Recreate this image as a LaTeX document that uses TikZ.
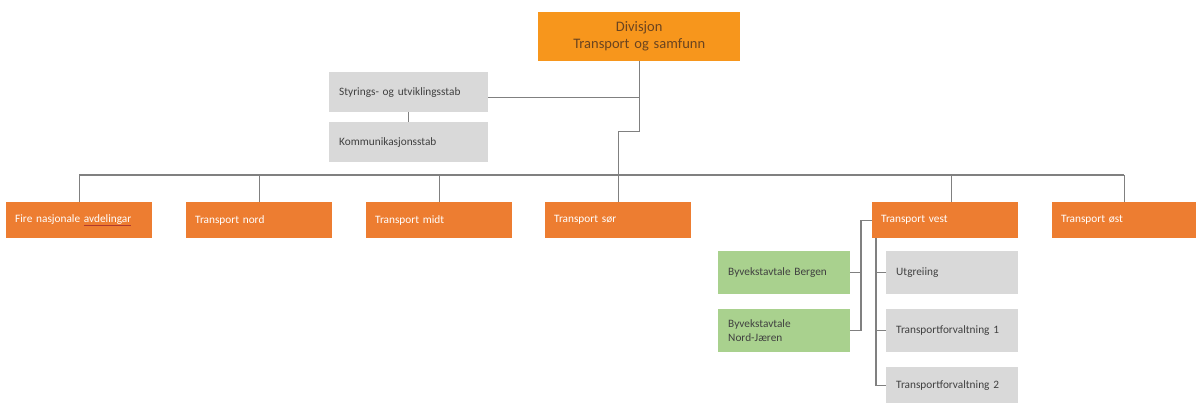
\documentclass[tikz,border=0pt]{standalone}
\usepackage{fontspec}
\setmainfont{Carlito}
\definecolor{divor}{HTML}{F7961C}
\definecolor{rowor}{HTML}{ED7D31}
\definecolor{gbox}{HTML}{D9D9D9}
\definecolor{grbox}{HTML}{A9D18E}
\definecolor{lin}{HTML}{808080}
\definecolor{dtxt}{HTML}{404040}
\definecolor{divtxt}{HTML}{6A4420}
\definecolor{ulred}{HTML}{B03A2E}
\newcommand{\redul}[1]{\textcolor{ulred}{\underline{\textcolor{white}{#1}}}}
\begin{document}
\begin{tikzpicture}[x=1pt,y=-1pt,
  base/.style={anchor=north west,inner xsep=10pt,inner ysep=0pt,align=left,font=\fontsize{11.3}{13.5}\selectfont},
  rowbox/.style={base,fill=rowor,text=white,text width=126pt,minimum height=36pt,inner xsep=9pt,text width=128pt},
  staffbox/.style={base,fill=gbox,text=dtxt,text width=139pt,minimum height=40pt},
  subbox/.style={base,fill=gbox,text=dtxt,text width=112pt,minimum height=43pt},
  greenbox/.style={base,fill=grbox,text=dtxt,text width=112pt,minimum height=43pt},
  conn/.style={draw=lin,line width=1.3pt}]
\useasboundingbox[fill=white] (0,0) rectangle (1196,403);

\node[anchor=north west,fill=divor,text=divtxt,align=center,text width=202pt,inner xsep=0pt,minimum height=49pt,font=\fontsize{14.5}{17}\selectfont] (div) at (538,12) {Divisjon\\Transport og samfunn};

\node[staffbox] (sty) at (329,72) {Styrings- og utviklingsstab};
\node[staffbox] (kom) at (329,122) {Kommunikasjonsstab};

\node[rowbox] (fire) at (6,202) {Fire nasjonale \redul{avdelingar}};
\node[rowbox] (nord) at (186,202) {Transport nord};
\node[rowbox] (midt) at (366,202) {Transport midt};
\node[rowbox] (sor) at (545,202) {Transport sør};
\node[rowbox] (vest) at (872,202) {Transport vest};
\node[rowbox,text width=126pt] (ost) at (1052,202) {Transport øst};

\node[greenbox] (berg) at (718,251) {Byvekstavtale Bergen};
\node[greenbox] (nj) at (718,309) {Byvekstavtale\\Nord-Jæren};

\node[subbox] (utg) at (886,251) {Utgreiing};
\node[subbox] (tf1) at (886,309) {Transportforvaltning 1};
\node[subbox,minimum height=36pt] (tf2) at (886,367) {Transportforvaltning 2};

% connectors
\draw[conn] (div.south) -- ++(0,70) coordinate (stepa) -| (sor.north);
\draw[conn] ([yshift=-5pt]sty.east) -- ([yshift=-5pt]sty.east -| div.south);
\draw[conn] (sty.south) -- (kom.north);
\coordinate (busl) at (fire.north |- 0,175);
\coordinate (busr) at (ost.north |- 0,175);
\draw[conn] (busl) -- (busr);
\draw[conn] (fire.north) -- (busl);
\draw[conn] (nord.north) -- (nord.north |- busl);
\draw[conn] (midt.north) -- (midt.north |- busl);
\coordinate (vtop) at ([xshift=6pt]vest.north);
\draw[conn] (vtop) -- (vtop |- busl);
\draw[conn] (ost.north) -- (busr);

\draw[conn] (vest.west) -- ++(-11,0) coordinate (gv) |- (nj.east);
\draw[conn] (berg.east) -- (berg.east -| gv);

\coordinate (sv) at ([xshift=4pt]vest.south west);
\draw[conn] (sv) |- (tf2.west);
\draw[conn] (utg.west) -- (utg.west -| sv);
\draw[conn] (tf1.west) -- (tf1.west -| sv);
\end{tikzpicture}
\end{document}
